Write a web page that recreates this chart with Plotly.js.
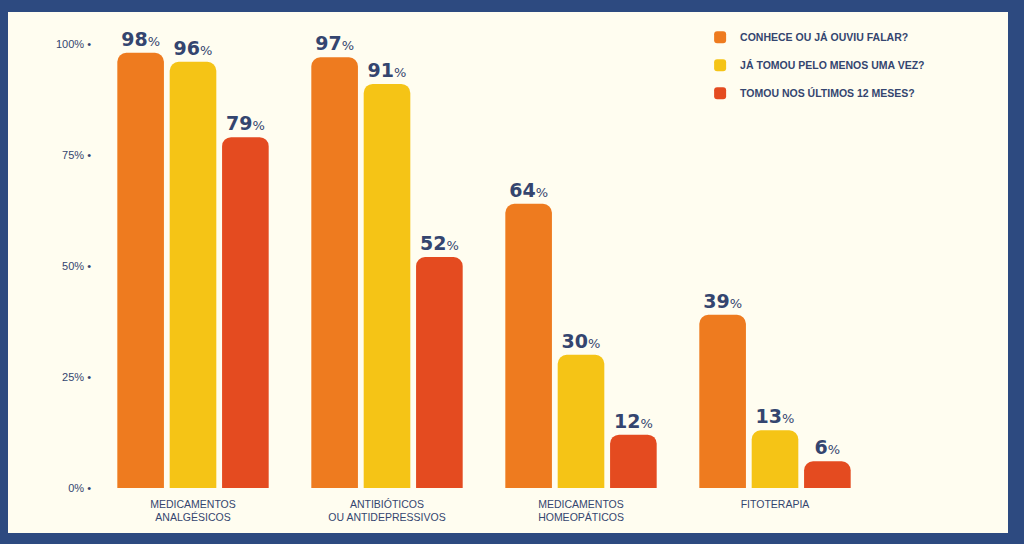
<!DOCTYPE html>
<html>
<head>
<meta charset="utf-8">
<script src="https://cdn.plot.ly/plotly-3.0.1.min.js"></script>
<style>
  html, body { margin: 0; padding: 0; background: #2d4a80; width: 1024px; height: 544px; overflow: hidden; }
  #chart { position: absolute; left: 8px; top: 12px; width: 1000px; height: 521px; }
</style>
</head>
<body>
<div id="chart"></div>
<script>
const categories = [
  "MEDICAMENTOS<br>ANALGÉSICOS",
  "ANTIBIÓTICOS<br>OU ANTIDEPRESSIVOS",
  "MEDICAMENTOS<br>HOMEOPÁTICOS",
  "FITOTERAPIA"
];
const seriesNames = [
  "CONHECE OU JÁ OUVIU FALAR?",
  "JÁ TOMOU PELO MENOS UMA VEZ?",
  "TOMOU NOS ÚLTIMOS 12 MESES?"
];
const conhece = [98, 97, 64, 39];
const jaTomou = [96, 91, 30, 13];
const ultimos12 = [79, 52, 12, 6];
const tickVals = [0, 25, 50, 75, 100];
const tickLabels = ["0% •", "25% •", "50% •", "75% •", "100% •"];

const colors = ["#ee7b1f", "#f5c416", "#e44b20"];
const textColor = "#34456f";
const allSeries = [conhece, jaTomou, ultimos12];

const traces = allSeries.map((vals, i) => ({
  type: "bar",
  name: seriesNames[i],
  legendgroup: "g" + i,
  x: categories,
  y: vals,
  marker: { color: colors[i], cornerradius: 9 },
  text: vals.map(v => "<b>" + v + "</b><span style=\"font-size:13px\">%</span>"),
  textposition: "outside",
  constraintext: "none",
  cliponaxis: false,
  textfont: { family: "DejaVu Sans, Liberation Sans, sans-serif", size: 19, color: textColor },
  hoverinfo: "none"
}));

const layout = {
  width: 1000,
  height: 521,
  paper_bgcolor: "#fffdf0",
  plot_bgcolor: "#fffdf0",
  margin: { l: 88, r: 39, t: 18, b: 45, autoexpand: false },
  barmode: "group",
  bargap: 0.19,
  bargroupgap: 0.11,
  showlegend: true,
  legend: {
    xref: "paper", yref: "paper",
    x: 0.692, y: 1.016, xanchor: "left", yanchor: "top",
    bgcolor: "rgba(0,0,0,0)",
    font: { family: "Liberation Sans, Arial, sans-serif", size: 10.5, color: textColor, weight: "bold" },
    traceorder: "grouped",
    tracegroupgap: 9,
    itemwidth: 30
  },
  xaxis: {
    type: "category",
    range: [-0.5, 4.0],
    autorange: false,
    showgrid: false, zeroline: false, showline: false, ticks: "",
    tickfont: { family: "Liberation Sans, Arial, sans-serif", size: 10.5, color: textColor },
    ticklabelstandoff: 8,
    fixedrange: true
  },
  yaxis: {
    range: [0, 103.15],
    autorange: false,
    tickvals: tickVals,
    ticktext: tickLabels,
    showgrid: false, zeroline: false, showline: false, ticks: "",
    tickfont: { family: "Liberation Sans Narrow, Liberation Sans, Arial, sans-serif", size: 11, color: textColor },
    ticklabelstandoff: 4,
    fixedrange: true
  }
};

Plotly.newPlot("chart", traces, layout, { displayModeBar: false, staticPlot: true });
</script>
</body>
</html>
